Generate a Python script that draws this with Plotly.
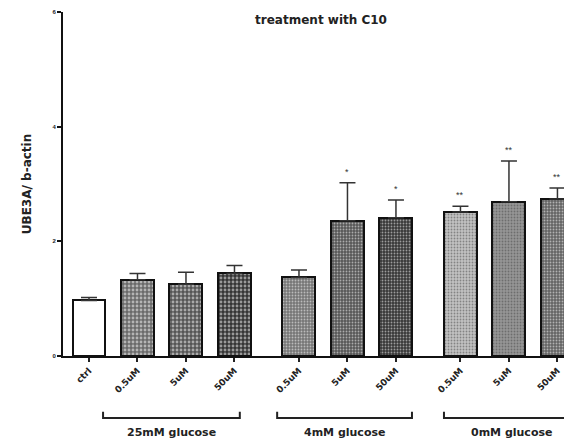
import plotly.graph_objects as go

# ---- data ----
categories = ["ctrl", "0.5uM", "5uM", "50uM", "0.5uM", "5uM", "50uM", "0.5uM", "5uM", "50uM"]
group_of_bar = [None, 0, 0, 0, 1, 1, 1, 2, 2, 2]
group_names = ["25mM glucose", "4mM glucose", "0mM glucose"]
values = [0.97, 1.33, 1.25, 1.44, 1.37, 2.36, 2.41, 2.51, 2.69, 2.74]
errors = [0.05, 0.11, 0.21, 0.14, 0.13, 0.66, 0.31, 0.10, 0.71, 0.19]
stars = ["", "", "", "", "", "*", "*", "**", "**", "**"]
y_ticks = [0, 2, 4, 6]

# ---- styles ----
bar_colors = ["#ffffff", "#6a6a6a", "#555555", "#353535",
              "#767676", "#575757", "#383838",
              "#c2c2c2", "#969696", "#646464"]
pat_shape = ["", ".", ".", ".", ".", ".", ".", ".", ".", "."]
pat_size = [4, 4, 4, 4, 3, 3, 3, 3, 3, 3]
pat_sol = [0.2, 0.4, 0.4, 0.4, 0.3, 0.3, 0.3, 0.3, 0.3, 0.3]

GAP = 0.33
xpos = []
for i, g in enumerate(group_of_bar):
    xpos.append(i if g is None else i + GAP * g)

fig = go.Figure()
fig.add_trace(go.Bar(
    x=xpos, y=values, width=0.68,
    marker=dict(
        color=bar_colors,
        line=dict(color="#111111", width=2),
        pattern=dict(shape=pat_shape, fgcolor="#ffffff", fgopacity=0.5,
                     size=pat_size, solidity=pat_sol, fillmode="overlay"),
    ),
    error_y=dict(type="data", symmetric=False, array=errors,
                 arrayminus=[0] * len(errors), color="#333333",
                 thickness=1.5, width=8),
    showlegend=False,
))

font_main = "Liberation Sans, Arial, sans-serif"
font_wide = "DejaVu Sans"

# significance stars
for x, v, e, s in zip(xpos, values, errors, stars):
    if s:
        fig.add_annotation(x=x, y=v + e, text=s, showarrow=False,
                           yshift=11, yanchor="middle",
                           font=dict(size=9, color="#333333", family=font_main))

# group brackets
left_pad = [0.71, 0.45, 0.34]
right_pad = [0.11, 0.33, 0.46]
y_h, y_e, y_lab = -0.180, -0.162, -0.222
for gi, name in enumerate(group_names):
    xs = [x for x, g in zip(xpos, group_of_bar) if g == gi]
    x0 = min(xs) - left_pad[gi]
    x1 = max(xs) + right_pad[gi]
    fig.add_shape(type="path", xref="x", yref="paper",
                  path=f"M {x0} {y_e} L {x0} {y_h} L {x1} {y_h} L {x1} {y_e}",
                  line=dict(color="#222222", width=2))
    fig.add_annotation(x=(x0 + x1) / 2, y=y_lab, xref="x", yref="paper",
                       text="<b>" + name + "</b>", showarrow=False,
                       yanchor="middle",
                       font=dict(size=11, color="#222222", family=font_wide))

# page has an 8px body margin, so the figure is sized/offset to compensate
fig.update_layout(
    width=564, height=430,
    margin=dict(l=55, r=0, t=4, b=82),
    paper_bgcolor="white", plot_bgcolor="white",
    title=dict(text="<b>treatment with C10</b>", x=0.555, xanchor="center",
               y=0.972, yanchor="middle",
               font=dict(size=12, color="#222222", family=font_wide)),
    bargap=0,
)
fig.update_xaxes(
    range=[-0.536, 9.96], tickmode="array", tickvals=xpos,
    ticktext=["<b>" + c + "</b>" for c in categories], tickangle=-45,
    ticks="outside", ticklen=4, tickwidth=1.5, tickcolor="#222222",
    showline=True, linecolor="#111111", linewidth=2,
    showgrid=False, zeroline=False,
    tickfont=dict(size=9, color="#222222", family=font_wide),
)
fig.update_yaxes(
    range=[0, 6], tickmode="array", tickvals=y_ticks,
    ticktext=["<b>%d</b>" % t for t in y_ticks],
    ticks="outside", ticklen=4, tickwidth=2, tickcolor="#111111",
    showline=True, linecolor="#111111", linewidth=2,
    showgrid=False, zeroline=False,
    tickfont=dict(size=6, color="#222222", family=font_main),
    title=dict(text="<b>UBE3A/ b-actin</b>", standoff=18,
               font=dict(size=12, color="#222222", family=font_wide)),
)

fig.write_html("out.html")
